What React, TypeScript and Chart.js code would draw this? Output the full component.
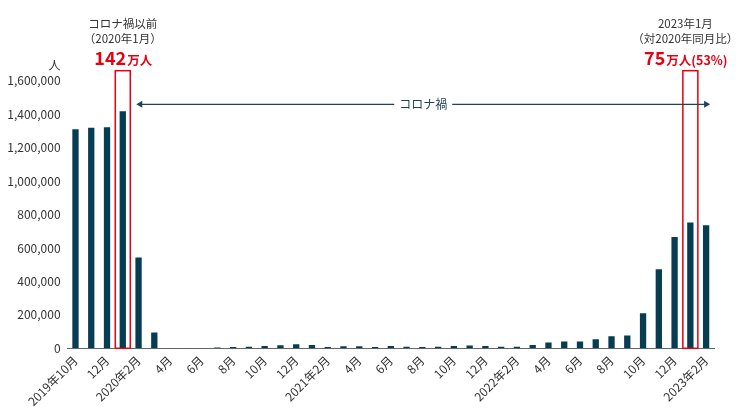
import React, { useEffect, useRef } from 'react';
import { Chart, registerables } from 'chart.js';

Chart.register(...registerables);

const months: string[] = [
  '2019年10月', '11月', '12月',
  '2020年1月', '2020年2月', '3月', '4月', '5月', '6月', '7月', '8月', '9月', '10月', '11月', '12月',
  '2021年1月', '2021年2月', '3月', '4月', '5月', '6月', '7月', '8月', '9月', '10月', '11月', '12月',
  '2022年1月', '2022年2月', '3月', '4月', '5月', '6月', '7月', '8月', '9月', '10月', '11月', '12月',
  '2023年1月', '2023年2月',
];

const visitors: number[] = [
  1309000, 1318000, 1322000,
  1418000, 543000, 94000, 2500, 1500, 2500, 4500, 8000, 10000, 14000, 18000, 24000,
  20000, 8000, 12000, 12000, 8000, 14000, 10000, 8000, 10000, 14000, 16000, 14000,
  10000, 10000, 20000, 34000, 40000, 40000, 54000, 72000, 76000, 209000, 473000, 666000,
  752000, 736000,
];

const yTicks: number[] = [0, 200000, 400000, 600000, 800000, 1000000, 1200000, 1400000, 1600000];

const highlightIndex: number[] = [3, 39];
const leftNoteLines: string[] = ['コロナ禍以前', '（2020年1月）'];
const leftNoteBig: string[] = ['142', '万人'];
const rightNoteLines: string[] = ['2023年1月', '（対2020年同月比）'];
const rightNoteBig: string[] = ['75', '万人(53%)'];
const periodLabel = 'コロナ禍';
const unitLabel = '人';

const FONT = '"Noto Sans CJK JP", "Noto Sans", sans-serif';
const BAR = '#073d53';
const RED = '#e60012';
const TEXT = '#333333';
const ARROW = '#1d4457';

const fmt = (v: number) => String(v).replace(/\B(?=(\d{3})+(?!\d))/g, ',');

const annotations = {
  id: 'annotations',
  afterDraw(chart: any) {
    const { ctx, scales, chartArea } = chart;
    const x = scales.x;
    const y = scales.y;
    const base = y.getPixelForValue(0);
    const boxTop = chartArea.top - 10;
    ctx.save();

    // unit label
    ctx.fillStyle = TEXT;
    ctx.font = `12px ${FONT}`;
    ctx.textAlign = 'right';
    ctx.textBaseline = 'middle';
    ctx.fillText(unitLabel, chartArea.left - 7, chartArea.top - 15);

    // highlight boxes
    ctx.strokeStyle = RED;
    ctx.lineWidth = 1.5;
    highlightIndex.forEach((i) => {
      const cx = x.getPixelForValue(i);
      ctx.strokeRect(cx - 7.5, boxTop, 15, base - boxTop);
    });

    const drawNote = (cx: number, lines: string[], big: string[]) => {
      ctx.fillStyle = TEXT;
      ctx.font = `11.5px ${FONT}`;
      ctx.textAlign = 'center';
      ctx.textBaseline = 'middle';
      ctx.fillText(lines[0], cx, 23.5);
      ctx.fillText(lines[1], cx, 38.5);
      ctx.fillStyle = RED;
      ctx.textAlign = 'left';
      ctx.textBaseline = 'alphabetic';
      ctx.font = `bold 18px ${FONT}`;
      const w1 = ctx.measureText(big[0]).width;
      ctx.font = `bold 12.5px ${FONT}`;
      const w2 = ctx.measureText(big[1]).width;
      const sx = cx - (w1 + w2) / 2;
      ctx.font = `bold 18px ${FONT}`;
      ctx.fillText(big[0], sx, 65);
      ctx.font = `bold 12.5px ${FONT}`;
      ctx.fillText(big[1], sx + w1 + 1, 65);
    };
    drawNote(x.getPixelForValue(highlightIndex[0]), leftNoteLines, leftNoteBig);
    drawNote(x.getPixelForValue(highlightIndex[1]) - 5, rightNoteLines, rightNoteBig);

    // arrow
    const ay = 104.3;
    const x1 = x.getPixelForValue(highlightIndex[0]) + 13.5;
    const x2 = x.getPixelForValue(visitors.length - 1) + 4;
    const mid = (x1 + x2) / 2;
    ctx.font = `12px ${FONT}`;
    const tw = ctx.measureText(periodLabel).width;
    ctx.strokeStyle = ARROW;
    ctx.fillStyle = ARROW;
    ctx.lineWidth = 1.3;
    ctx.beginPath();
    ctx.moveTo(x1 + 5, ay);
    ctx.lineTo(mid - tw / 2 - 5, ay);
    ctx.moveTo(mid + tw / 2 + 5, ay);
    ctx.lineTo(x2 - 5, ay);
    ctx.stroke();
    ctx.beginPath();
    ctx.moveTo(x1, ay);
    ctx.lineTo(x1 + 6, ay - 3.5);
    ctx.lineTo(x1 + 6, ay + 3.5);
    ctx.closePath();
    ctx.fill();
    ctx.beginPath();
    ctx.moveTo(x2, ay);
    ctx.lineTo(x2 - 6, ay - 3.5);
    ctx.lineTo(x2 - 6, ay + 3.5);
    ctx.closePath();
    ctx.fill();
    ctx.textAlign = 'center';
    ctx.textBaseline = 'middle';
    ctx.fillText(periodLabel, mid, ay);

    ctx.restore();
  },
};

export default function App() {
  const ref = useRef<HTMLCanvasElement | null>(null);
  useEffect(() => {
    if (!ref.current) return;
    const chart = new Chart(ref.current, {
      type: 'bar',
      data: {
        labels: months,
        datasets: [
          {
            data: visitors,
            backgroundColor: BAR,
            categoryPercentage: 1,
            barPercentage: 0.4,
          },
        ],
      },
      options: {
        animation: false,
        responsive: false,
        devicePixelRatio: 1,
        layout: { padding: { top: 80.7, right: 30, left: 0, bottom: 0 } },
        plugins: { legend: { display: false }, tooltip: { enabled: false } },
        scales: {
          x: {
            grid: { display: false, drawTicks: false },
            border: { display: true, color: '#666666', width: 1 },
            ticks: {
              autoSkip: false,
              maxRotation: 45,
              minRotation: 45,
              padding: 5,
              color: TEXT,
              font: { family: FONT, size: 12 },
              callback: (_v: any, i: number) => (i % 2 === 0 ? months[i] : ''),
            },
            afterFit: (s: any) => {
              s.height = 69.7;
            },
          },
          y: {
            min: 0,
            max: 1600000,
            grid: { display: false, drawTicks: false },
            border: { display: false },
            afterBuildTicks: (s: any) => {
              s.ticks = yTicks.map((v) => ({ value: v }));
            },
            ticks: {
              padding: 7,
              color: TEXT,
              font: { family: FONT, size: 12 },
              callback: (v: any) => fmt(Number(v)),
            },
            afterFit: (s: any) => {
              s.width = 67.6;
            },
          },
        },
      },
      plugins: [annotations],
    });
    return () => chart.destroy();
  }, []);
  return (
    <div style={{ position: 'fixed', left: 0, top: 0, width: 744, height: 418, background: '#ffffff' }}>
      <canvas ref={ref} width={744} height={418} />
    </div>
  );
}
